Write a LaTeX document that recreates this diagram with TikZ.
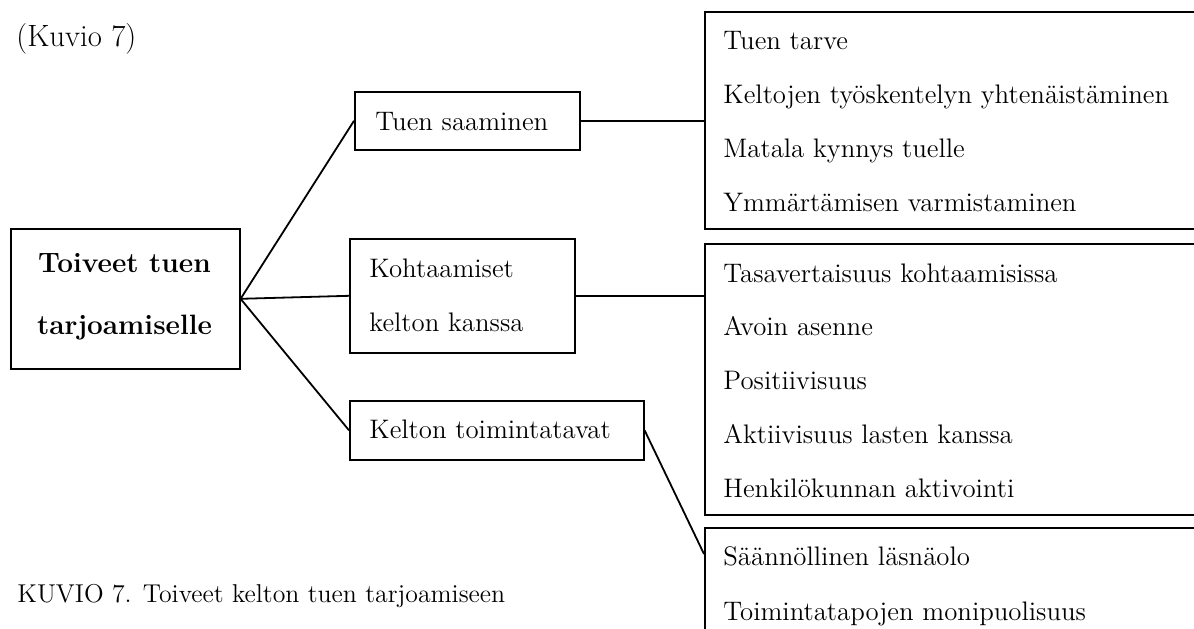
\documentclass[tikz,border=0pt]{standalone}
\usepackage{fontspec}
\begin{document}
\begin{tikzpicture}[x=0.5pt,y=-0.5pt,
        box/.style={draw,line width=0.8pt,inner sep=0pt,anchor=north west},
        item/.style={anchor=base west,inner sep=0pt,font=\fontsize{13.4}{16}\selectfont},
        head/.style={anchor=base,inner sep=0pt,font=\bfseries\fontsize{14}{16}\selectfont},
        link/.style={line width=0.9pt}]
    \useasboundingbox (0,0) rectangle (1194,628);
    \clip (0,0) rectangle (1194,628);
    \node [item,font=\fontsize{15.4}{18}\selectfont] (kuvio) at (16,46) {(Kuvio 7)};
    % main box
    \node [box,minimum width=114.5pt,minimum height=70pt] (main) at (10,228) {};
    \node [head] (head1) at (124.5,272) {Toiveet tuen};
    \node [head] (head2) at (124.5,334) {tarjoamiselle};
    % middle column
    \node [box,minimum width=112.5pt,minimum height=29pt] (saa) at (354,91) {};
    \node [item] (saat) at (375,130) {Tuen saaminen};
    \node [box,minimum width=112.5pt,minimum height=57pt] (koh) at (349,238) {};
    \node [item] (koht1) at (369,277) {Kohtaamiset};
    \node [item] (koht2) at (369,331) {kelton kanssa};
    \node [box,minimum width=147pt,minimum height=29.5pt] (toi) at (349,400) {};
    \node [item] (toit) at (369,438) {Kelton toimintatavat};
    % right column
    \node [box,minimum width=268pt,minimum height=108.5pt] (list1) at (704,11) {};
    \node [box,minimum width=268pt,minimum height=135.5pt] (list2) at (704,243) {};
    \node [box,minimum width=268pt,minimum height=100pt] (list3) at (704,527) {};
    \foreach \t [count=\i] in {Tuen tarve,Keltojen työskentelyn yhtenäistäminen,Matala kynnys tuelle,Ymmärtämisen varmistaminen}
        \node [item] (a\i) at (723,{49+54.3*(\i-1)}) {\t};
    \foreach \t [count=\i] in {Tasavertaisuus kohtaamisissa,Avoin asenne,Positiivisuus,Aktiivisuus lasten kanssa,Henkilökunnan aktivointi}
        \node [item] (b\i) at (723,{282+53.75*(\i-1)}) {\t};
    \foreach \t [count=\i] in {Säännöllinen läsnäolo,Toimintatapojen monipuolisuus}
        \node [item] (c\i) at (723,{565+55*(\i-1)}) {\t};
    % connectors
    \draw [link] (main.east) -- (saa.west);
    \draw [link] (main.east) -- (koh.west);
    \draw [link] (main.east) -- (toi.west);
    \draw [link] (saa.east) -- (saa.east -| list1.west);
    \draw [link] (koh.east) -- (koh.east -| list2.west);
    \coordinate (into3) at (704,554);
    \draw [link] (toi.east) -- (into3);
    \node [item,font=\fontsize{12.9}{15}\selectfont] (caption) at (17,602) {KUVIO 7. Toiveet kelton tuen tarjoamiseen};
\end{tikzpicture}
\end{document}
